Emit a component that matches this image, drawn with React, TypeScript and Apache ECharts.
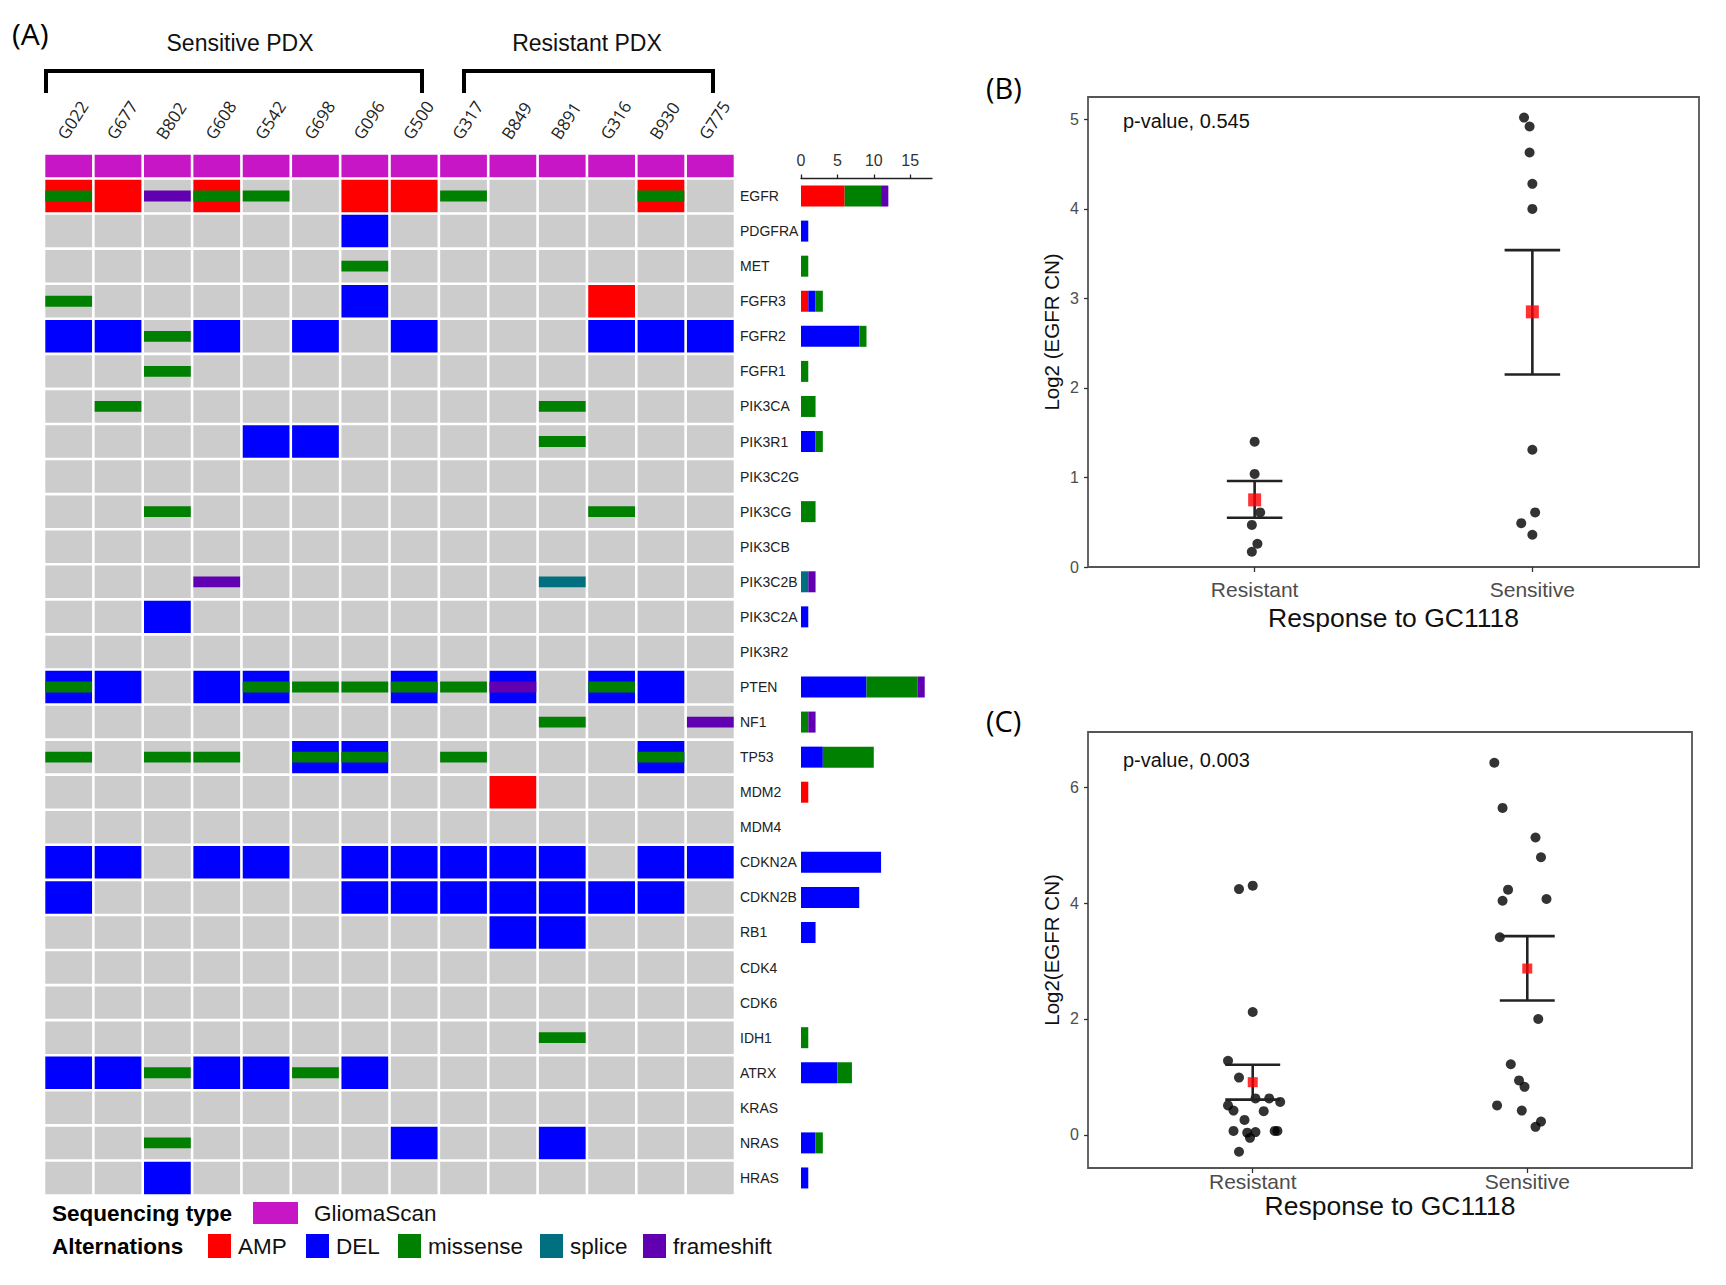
import React, { useEffect, useRef } from 'react';
import * as echarts from 'echarts';

// ---------------- data ----------------
const SAMPLES = ['G022', 'G677', 'B802', 'G608', 'G542', 'G698', 'G096', 'G500', 'G317', 'B849', 'B891', 'G316', 'B930', 'G775'];
const GENES = ['EGFR', 'PDGFRA', 'MET', 'FGFR3', 'FGFR2', 'FGFR1', 'PIK3CA', 'PIK3R1', 'PIK3C2G', 'PIK3CG', 'PIK3CB', 'PIK3C2B', 'PIK3C2A', 'PIK3R2', 'PTEN', 'NF1', 'TP53', 'MDM2', 'MDM4', 'CDKN2A', 'CDKN2B', 'RB1', 'CDK4', 'CDK6', 'IDH1', 'ATRX', 'KRAS', 'NRAS', 'HRAS'];
// one string per gene, one code per sample: . none, A AMP, D DEL, M missense, S splice, F frameshift
const ALTERATIONS = [
  'AM A F AM M . A A M . . . AM .',
  '. . . . . . D . . . . . . .',
  '. . . . . . M . . . . . . .',
  'M . . . . . D . . . . A . .',
  'D D M D . D . D . . . D D D',
  '. . M . . . . . . . . . . .',
  '. M . . . . . . . . M . . .',
  '. . . . D D . . . . M . . .',
  '. . . . . . . . . . . . . .',
  '. . M . . . . . . . . M . .',
  '. . . . . . . . . . . . . .',
  '. . . F . . . . . . S . . .',
  '. . D . . . . . . . . . . .',
  '. . . . . . . . . . . . . .',
  'DM D . D DM M M DM M DF . DM D .',
  '. . . . . . . . . . M . . F',
  'M . M M . DM DM . M . . . DM .',
  '. . . . . . . . . A . . . .',
  '. . . . . . . . . . . . . .',
  'D D . D D . D D D D D . D D',
  'D . . . . . D D D D D D D .',
  '. . . . . . . . . D D . . .',
  '. . . . . . . . . . . . . .',
  '. . . . . . . . . . . . . .',
  '. . . . . . . . . . M . . .',
  'D D M D D M D . . . . . . .',
  '. . . . . . . . . . . . . .',
  '. . M . . . . D . . D . . .',
  '. . D . . . . . . . . . . .',
];
const SEQ_TYPE = 'GliomaScan';

// alteration counts per gene (right bar chart)
const BAR_AMP = [6, 0, 0, 1, 0, 0, 0, 0, 0, 0, 0, 0, 0, 0, 0, 0, 0, 1, 0, 0, 0, 0, 0, 0, 0, 0, 0, 0, 0];
const BAR_DEL = [0, 1, 0, 1, 8, 0, 0, 2, 0, 0, 0, 0, 1, 0, 9, 0, 3, 0, 0, 11, 8, 2, 0, 0, 0, 5, 0, 2, 1];
const BAR_MIS = [5, 0, 1, 1, 1, 1, 2, 1, 0, 2, 0, 0, 0, 0, 7, 1, 7, 0, 0, 0, 0, 0, 0, 0, 1, 2, 0, 1, 0];
const BAR_SPL = [0, 0, 0, 0, 0, 0, 0, 0, 0, 0, 0, 1, 0, 0, 0, 0, 0, 0, 0, 0, 0, 0, 0, 0, 0, 0, 0, 0, 0];
const BAR_FS = [1, 0, 0, 0, 0, 0, 0, 0, 0, 0, 0, 1, 0, 0, 1, 1, 0, 0, 0, 0, 0, 0, 0, 0, 0, 0, 0, 0, 0];
const BAR_TICKS = [0, 5, 10, 15];

const GROUPS = ['Resistant', 'Sensitive'];
// panel B : [jittered x, log2 EGFR CN]
const B_RESISTANT = [[1.0, 1.4], [1.0, 1.04], [1.02, 0.61], [0.99, 0.47], [1.01, 0.26], [0.99, 0.17]];
const B_SENSITIVE = [[1.97, 5.02], [1.99, 4.92], [1.99, 4.63], [2.0, 4.28], [2.0, 4.0], [2.0, 1.31], [2.01, 0.61], [1.96, 0.49], [2.0, 0.36]];
// [x, mean, lower, upper]
const B_SUMMARY = [[1, 0.75, 0.55, 0.96], [2, 2.85, 2.15, 3.54]];
const B_TICKS = [0, 1, 2, 3, 4, 5];
const B_PVALUE = 'p-value, 0.545';

// panel C
const C_RESISTANT = [[0.95, 4.24], [1.0, 4.3], [1.0, 2.12], [0.91, 1.28], [0.95, 0.99], [1.01, 0.63], [1.06, 0.63], [1.1, 0.57], [0.91, 0.51], [0.93, 0.42], [1.04, 0.41], [0.97, 0.26], [0.93, 0.07], [0.98, 0.04], [1.01, 0.05], [0.99, -0.05], [1.08, 0.07], [1.09, 0.07], [0.95, -0.29]];
const C_SENSITIVE = [[1.88, 6.42], [1.91, 5.64], [2.03, 5.13], [2.05, 4.79], [1.93, 4.23], [1.91, 4.04], [2.07, 4.07], [1.9, 3.41], [2.04, 2.0], [1.94, 1.22], [1.97, 0.94], [1.99, 0.83], [1.89, 0.51], [1.98, 0.42], [2.05, 0.23], [2.03, 0.14]];
const C_SUMMARY = [[1, 0.91, 0.61, 1.21], [2, 2.87, 2.32, 3.43]];
const C_TICKS = [0, 2, 4, 6];
const C_PVALUE = 'p-value, 0.003';

const LEGEND_ALT = [
  { code: 'A', label: 'AMP' },
  { code: 'D', label: 'DEL' },
  { code: 'M', label: 'missense' },
  { code: 'S', label: 'splice' },
  { code: 'F', label: 'frameshift' },
];

// ---------------- styles ----------------
const FONT = '"Liberation Sans", Arial, Helvetica, sans-serif';
const FONT_PANEL = '"Open Sans", "Liberation Sans", sans-serif';
const COLORS: Record<string, string> = {
  A: '#FF0000',
  D: '#0000FF',
  M: '#008000',
  S: '#007080',
  F: '#6000B0',
};
const GREY = '#CCCCCC';
const SEQ_COLOR = '#C616C6';
const GAP = 2.6;
const CAP_HALF = 0.1;

function txt(text: string, x: number, y: number, size: number, o: any = {}) {
  const align = o.align || 'left';
  return {
    type: 'text',
    x,
    y,
    silent: true,
    style: {
      text,
      fontSize: size,
      fontFamily: o.family || FONT,
      fontWeight: o.weight || 'normal',
      fill: o.fill || '#000',
      align,
      verticalAlign: 'middle',
      textAlign: align,
      textVerticalAlign: 'middle',
    },
  };
}

function buildOption() {
  const heatCells: { value: number[]; code: string }[] = [];
  ALTERATIONS.forEach((row, r) => {
    row.split(' ').forEach((code, c) => heatCells.push({ value: [c, r], code }));
  });

  const heatRender = (params: any, api: any) => {
    const code = heatCells[params.dataIndex].code;
    const p = api.coord([api.value(0), api.value(1)]);
    const s = api.size([1, 1]);
    const w = s[0] - GAP;
    const h = s[1] - GAP;
    let full = GREY;
    if (code.includes('A')) full = COLORS.A;
    else if (code.includes('D')) full = COLORS.D;
    const children: any[] = [
      { type: 'rect', shape: { x: p[0] - w / 2, y: p[1] - h / 2, width: w, height: h }, style: { fill: full } },
    ];
    const band = ['M', 'S', 'F'].find((k) => code.includes(k));
    if (band) {
      children.push({
        type: 'rect',
        shape: { x: p[0] - w / 2, y: p[1] - h / 6, width: w, height: h / 3 },
        style: { fill: COLORS[band] },
      });
    }
    return { type: 'group', children };
  };

  const seqRender = (params: any, api: any) => {
    const p = api.coord([api.value(0), api.value(1)]);
    const s = api.size([1, 1]);
    const w = s[0] - GAP;
    const h = s[1] - GAP;
    return { type: 'rect', shape: { x: p[0] - w / 2, y: p[1] - h / 2, width: w, height: h }, style: { fill: SEQ_COLOR } };
  };

  const errRender = (params: any, api: any) => {
    const x = api.value(0);
    const lo = api.coord([x, api.value(2)]);
    const hi = api.coord([x, api.value(3)]);
    const half = api.size([CAP_HALF, 0])[0];
    const st = { stroke: '#222', lineWidth: 2.6 };
    return {
      type: 'group',
      children: [
        { type: 'line', shape: { x1: lo[0], y1: lo[1], x2: hi[0], y2: hi[1] }, style: st },
        { type: 'line', shape: { x1: lo[0] - half, y1: lo[1], x2: lo[0] + half, y2: lo[1] }, style: st },
        { type: 'line', shape: { x1: hi[0] - half, y1: hi[1], x2: hi[0] + half, y2: hi[1] }, style: st },
      ],
    };
  };

  const shift = 0.15;
  const labelIdx = (v: number) => Math.round(v + shift);

  const scatterXAxis = (gridIndex: number, margin: number, nameGap: number) => ({
    type: 'value',
    gridIndex,
    min: 0.4,
    max: 2.6,
    axisLine: { show: false, onZero: false },
    splitLine: { show: false },
    axisTick: { show: true, customValues: [1, 2], length: 5, lineStyle: { color: '#333', width: 1.3 } },
    axisLabel: {
      customValues: [1, 2],
      formatter: (v: number) => GROUPS[Math.round(v) - 1],
      fontSize: 21,
      color: '#4D4D4D',
      margin,
      fontFamily: FONT,
    },
    name: 'Response to GC1118',
    nameLocation: 'middle',
    nameGap,
    nameTextStyle: { fontSize: 26.5, color: '#111', fontFamily: FONT },
  });

  const scatterYAxis = (gridIndex: number, min: number, max: number, ticks: number[], name: string) => ({
    type: 'value',
    gridIndex,
    min,
    max,
    axisLine: { show: false, onZero: false },
    splitLine: { show: false },
    axisTick: { show: true, customValues: ticks, length: 4, lineStyle: { color: '#333', width: 1.3 } },
    axisLabel: { customValues: ticks, fontSize: 16, color: '#4D4D4D', margin: 9, fontFamily: FONT },
    name,
    nameLocation: 'middle',
    nameGap: 26,
    nameTextStyle: { fontSize: 20.5, color: '#111', fontFamily: FONT },
  });

  const barSeries = (name: string, data: number[], color: string) => ({
    type: 'bar',
    name,
    xAxisIndex: 2,
    yAxisIndex: 2,
    stack: 'alt',
    barWidth: 21,
    data,
    itemStyle: { color },
    silent: true,
  });

  const graphic: any[] = [
    txt('(A)', 12, 33, 30, { family: FONT_PANEL }),
    txt('(B)', 986, 87, 29, { family: FONT_PANEL }),
    txt('(C)', 986, 720, 29, { family: FONT_PANEL }),
    txt('Sensitive PDX', 240, 43, 23, { align: 'center', fill: '#111' }),
    txt('Resistant PDX', 587, 43, 23, { align: 'center', fill: '#111' }),
    {
      type: 'polyline',
      silent: true,
      shape: { points: [[46, 93], [46, 71], [422, 71], [422, 93]] },
      style: { stroke: '#000', lineWidth: 4, fill: null },
    },
    {
      type: 'polyline',
      silent: true,
      shape: { points: [[464, 93], [464, 71], [713, 71], [713, 93]] },
      style: { stroke: '#000', lineWidth: 4, fill: null },
    },
    txt(B_PVALUE, 1123, 121, 20, { fill: '#111' }),
    txt(C_PVALUE, 1123, 760, 20, { fill: '#111' }),
    // legend
    txt('Sequencing type', 52, 1213, 22.5, { weight: 'bold' }),
    { type: 'rect', silent: true, shape: { x: 253, y: 1202, width: 45, height: 22 }, style: { fill: SEQ_COLOR } },
    txt(SEQ_TYPE, 314, 1213, 22.5, { fill: '#111' }),
    txt('Alternations', 52, 1246, 22.5, { weight: 'bold' }),
  ];
  const legendX = [208, 306, 398, 540, 643];
  LEGEND_ALT.forEach((it, i) => {
    graphic.push({
      type: 'rect',
      silent: true,
      shape: { x: legendX[i], y: 1234, width: 23, height: 24 },
      style: { fill: COLORS[it.code] },
    });
    graphic.push(txt(it.label, legendX[i] + 30, 1246, 22.5, { fill: '#111' }));
  });

  return {
    animation: false,
    backgroundColor: '#fff',
    textStyle: { fontFamily: FONT },
    grid: [
      { left: 44, top: 153.5, width: 691, height: 25 },
      { left: 44, top: 178.5, width: 691, height: 1017 },
      { left: 801, top: 178.5, width: 131, height: 1017 },
      { left: 1088, top: 97, width: 611, height: 470, show: true, borderColor: '#555', borderWidth: 1.8, backgroundColor: 'transparent' },
      { left: 1088, top: 732, width: 604, height: 436, show: true, borderColor: '#555', borderWidth: 1.8, backgroundColor: 'transparent' },
    ],
    xAxis: [
      {
        type: 'value',
        gridIndex: 0,
        position: 'top',
        min: -0.5,
        max: 13.5,
        axisLine: { show: false },
        axisTick: { show: false },
        splitLine: { show: false },
        axisLabel: {
          customValues: SAMPLES.map((_, i) => i - shift),
          formatter: (v: number) => SAMPLES[labelIdx(v)] ?? '',
          rotate: -57,
          margin: 16,
          fontSize: 17,
          color: '#222',
          fontFamily: FONT_PANEL,
        },
      },
      { type: 'category', gridIndex: 1, data: SAMPLES, show: false },
      {
        type: 'value',
        gridIndex: 2,
        position: 'top',
        min: 0,
        max: 18,
        axisLine: { show: true, lineStyle: { color: '#222', width: 1.3 } },
        axisTick: { show: true, customValues: BAR_TICKS, length: 4, lineStyle: { color: '#222', width: 1.3 } },
        splitLine: { show: false },
        axisLabel: { customValues: BAR_TICKS, fontSize: 16, color: '#333', margin: 10, fontFamily: FONT },
      },
      scatterXAxis(3, 12, 37),
      scatterXAxis(4, 3, 24),
    ],
    yAxis: [
      { type: 'category', gridIndex: 0, data: [SEQ_TYPE], show: false },
      { type: 'category', gridIndex: 1, data: GENES, inverse: true, show: false },
      {
        type: 'category',
        gridIndex: 2,
        data: GENES,
        inverse: true,
        axisLine: { show: false },
        axisTick: { show: false },
        axisLabel: { interval: 0, align: 'left', margin: 61, fontSize: 14, color: '#222', fontFamily: FONT },
      },
      scatterYAxis(3, 0, 5.25, B_TICKS, 'Log2 (EGFR CN)'),
      scatterYAxis(4, -0.57, 6.95, C_TICKS, 'Log2(EGFR CN)'),
    ],
    series: [
      {
        type: 'custom',
        xAxisIndex: 0,
        yAxisIndex: 0,
        renderItem: seqRender,
        data: SAMPLES.map((_, i) => [i, 0]),
        silent: true,
      },
      {
        type: 'custom',
        xAxisIndex: 1,
        yAxisIndex: 1,
        renderItem: heatRender,
        data: heatCells.map((d) => d.value),
        silent: true,
      },
      barSeries('AMP', BAR_AMP, COLORS.A),
      barSeries('DEL', BAR_DEL, COLORS.D),
      barSeries('missense', BAR_MIS, COLORS.M),
      barSeries('splice', BAR_SPL, COLORS.S),
      barSeries('frameshift', BAR_FS, COLORS.F),
      // panel B
      { type: 'scatter', xAxisIndex: 3, yAxisIndex: 3, data: B_RESISTANT, symbolSize: 10, itemStyle: { color: '#000' }, silent: true, z: 2 },
      { type: 'scatter', xAxisIndex: 3, yAxisIndex: 3, data: B_SENSITIVE, symbolSize: 10, itemStyle: { color: '#000' }, silent: true, z: 2 },
      { type: 'custom', xAxisIndex: 3, yAxisIndex: 3, renderItem: errRender, data: B_SUMMARY, encode: { x: 0, y: 1 }, silent: true, z: 3 },
      { type: 'scatter', xAxisIndex: 3, yAxisIndex: 3, data: B_SUMMARY.map((d) => [d[0], d[1]]), symbol: 'rect', symbolSize: 13, itemStyle: { color: '#FF0000' }, silent: true, z: 4 },
      // panel C
      { type: 'scatter', xAxisIndex: 4, yAxisIndex: 4, data: C_RESISTANT, symbolSize: 10, itemStyle: { color: '#000' }, silent: true, z: 2 },
      { type: 'scatter', xAxisIndex: 4, yAxisIndex: 4, data: C_SENSITIVE, symbolSize: 10, itemStyle: { color: '#000' }, silent: true, z: 2 },
      { type: 'custom', xAxisIndex: 4, yAxisIndex: 4, renderItem: errRender, data: C_SUMMARY, encode: { x: 0, y: 1 }, silent: true, z: 3 },
      { type: 'scatter', xAxisIndex: 4, yAxisIndex: 4, data: C_SUMMARY.map((d) => [d[0], d[1]]), symbol: 'rect', symbolSize: 10, itemStyle: { color: '#FF0000' }, silent: true, z: 4 },
    ],
    graphic,
  };
}

export default function App() {
  const ref = useRef<HTMLDivElement>(null);
  useEffect(() => {
    document.body.style.margin = '0';
    document.body.style.overflow = 'hidden';
    const chart = echarts.init(ref.current as HTMLDivElement, null, { renderer: 'svg' });
    chart.setOption(buildOption() as any);
    return () => chart.dispose();
  }, []);
  return <div ref={ref} style={{ width: 1726, height: 1285 }} />;
}
